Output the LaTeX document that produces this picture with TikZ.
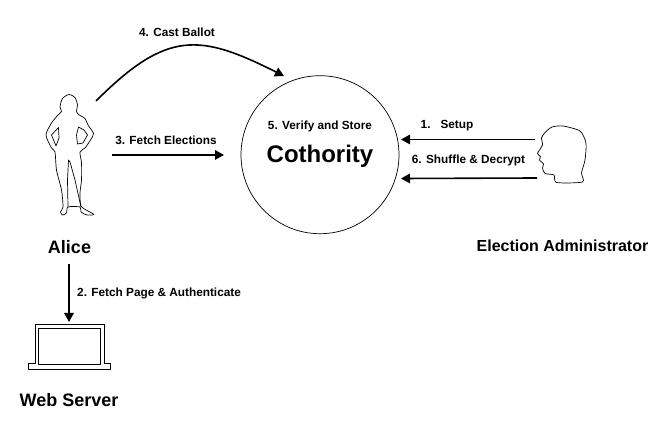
\documentclass[tikz,border=0pt]{standalone}
\usepackage{fontspec}
\setmainfont{Liberation Sans}
\usetikzlibrary{arrows.meta}
\tikzset{
	step label/.style={font=\bfseries\fontsize{11.8}{14}\selectfont, inner sep=0pt},
	name label/.style={font=\bfseries\fontsize{18}{21}\selectfont, inner sep=0pt},
	flow/.style={line width=1.6pt, -{Triangle[length=9pt,width=9.5pt]}},
	outline/.style={line width=0.7pt, line join=round}
}

\begin{document}
\begin{tikzpicture}[x=1pt, y=-1pt]
	\useasboundingbox (0,0) rectangle (672,427);

	% Circle
	\node[draw, circle, line width=0.7pt, minimum size=158pt, inner sep=0pt] (cothority) at (320,154.7) {};
	\node[step label] (verify) at (320,126) {5. Verify and Store};
	\node[font=\bfseries\fontsize{24}{28}\selectfont, inner sep=0pt] (cothorityname) at (320,156) {Cothority};

	% Alice
	\draw[outline] plot[smooth cycle, tension=0.45] coordinates {
		(69,94.5) (75,97.5) (77.5,105) (76.5,111) (78.5,114.5) (85,118.5) (88,125)
		(93.5,133.5) (90.5,140) (85,148) (80,152) (81.5,163) (81.5,180) (80,193)
		(81,206) (88,211) (94,214.5) (87,215) (81,212) (80,207) (68,207) (66.5,213)
		(62.5,215) (60.5,212) (63,207) (61.5,190) (56.5,170) (55,152) (51.5,148) (46,135)
		(51.5,123) (58,115) (61.5,111.5) (60,107) (62.5,98.5)};
	\draw[outline] (68,207) -- (67.5,180) -- (68.5,160) -- (70,162) -- (75,180) -- (81,207);
	\draw[outline] (51.5,135) -- (58.5,127.5) -- (59,138) -- (56,146) -- cycle;
	\draw[outline] (78.5,127) -- (84,130) -- (87.5,135) -- (83,143) -- (77.5,144) -- (76.5,135) -- cycle;
	\node[name label] (alice) at (69.5,247) {Alice};

	% Administrator
	\draw[outline] plot[smooth cycle, tension=0.4] coordinates {
		(545,132.5) (552,127) (563,126) (580,131) (586,143) (585,160) (581.5,173) (582.5,182)
		(556.5,182.5) (554,175) (545,173.5) (542.5,168) (543.5,164) (539.5,160) (540.5,156.5)
		(537.5,153.5) (542.5,145) (541.5,138)};
	\node[name label, font=\bfseries\fontsize{16}{19}\selectfont] (admin) at (562.5,246) {Election Administrator};

	% Laptop
	\draw[line width=0.9pt, line join=round] (35,324.5) -- (104,324.5) -- (104,363.5) -- (110,363.5) -- (110,369.5)
		-- (28.5,369.5) -- (28.5,363.5) -- (35,363.5) -- cycle;
	\draw[line width=0.9pt] (38.5,328.5) rectangle (100.5,364);
	\node[name label] (server) at (69,400) {Web Server};

	% Arrows
	\coordinate (setupstart) at (535,139.5);
	\coordinate (setupend) at (401,139.5);
	\coordinate (shufflestart) at (537,178);
	\coordinate (shuffleend) at (401,178.5);
	\coordinate (fetchstart) at (112,155);
	\coordinate (fetchend) at (224,155);
	\coordinate (caststart) at (96,101);
	\coordinate (castend) at (284,76);
	\coordinate (pagestart) at (69,264);
	\coordinate (pageend) at (69,322);
	\draw[flow] (setupstart) -- (setupend);
	\draw[flow] (shufflestart) -- (shuffleend);
	\draw[flow] (fetchstart) -- (fetchend);
	\draw[flow] (pagestart) -- (pageend);
	\draw[flow] (caststart) .. controls (167,30) and (199.5,33.5) .. (castend);

	% Labels
	\node[step label] (cast) at (177,32) {4. Cast Ballot};
	\node[step label] (elections) at (166,140) {3. Fetch Elections};
	\node[step label] (setup) at (447,126) {1.\hspace{10pt}Setup};
	\node[step label] (shuffle) at (468.5,160) {6. Shuffle \& Decrypt};
	\node[step label, anchor=west] (page) at (77,293) {2. Fetch Page \& Authenticate};
\end{tikzpicture}
\end{document}
